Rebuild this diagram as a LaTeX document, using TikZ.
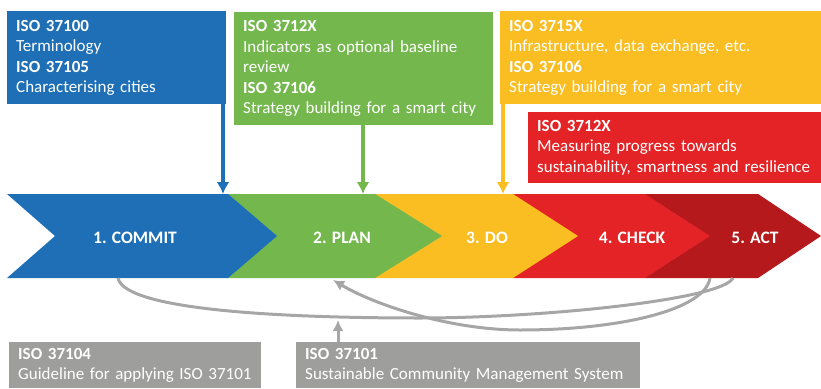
\documentclass[tikz,border=0pt]{standalone}
\usepackage{fontspec}
\setmainfont{Carlito}
\usetikzlibrary{arrows.meta}

\definecolor{isoblue}{RGB}{30,111,182}
\definecolor{isogreen}{RGB}{115,183,77}
\definecolor{isoyellow}{RGB}{250,190,35}
\definecolor{isored}{RGB}{227,35,37}
\definecolor{isodarkred}{RGB}{182,25,27}
\definecolor{isogray}{RGB}{158,158,157}
\definecolor{cyclegray}{RGB}{166,166,166}

\tikzstyle{isobox} = [ anchor=north west,inner xsep=9pt,inner ysep=0pt,
                       align=left,text=white,font=\fontsize{17}{20.5}\selectfont]
\tikzstyle{phase}  = [ text=white,font=\fontsize{17.5}{20}\selectfont\bfseries]
\tikzstyle{feed}   = [ line width=3.5pt,-{Latex[length=12pt,width=13pt]}]
\tikzstyle{cycleline} = [ cyclegray,line width=3pt,-{Latex[length=11pt,width=11pt]}]

\begin{document}
\begin{tikzpicture}[x=1pt,y=-1pt]
  \useasboundingbox (0,0) rectangle (821,388);

  % standard boxes
  \node[isobox,fill=isoblue,text width=201pt,minimum height=93pt] at (7,11) (iso100)
    {\textbf{ISO 37100}\\ Terminology\\ \textbf{ISO 37105}\\ Characterising cities};
  \node[isobox,fill=isogreen,text width=241pt,minimum height=113pt] at (234,12) (iso3712)
    {\textbf{ISO 3712X}\\ Indicators as optional baseline\\ review\\ \textbf{ISO 37106}\\ Strategy building for a smart city};
  \node[isobox,fill=isoyellow,text width=303pt,minimum height=93pt] at (500,11) (iso3715)
    {\textbf{ISO 3715X}\\ Infrastructure, data exchange, etc.\\ \textbf{ISO 37106}\\ Strategy building for a smart city};
  \node[isobox,fill=isored,text width=275pt,minimum height=71pt] at (528,112) (iso3712b)
    {\textbf{ISO 3712X}\\ Measuring progress towards\\ sustainability, smartness and resilience};
  \node[isobox,fill=isogray,text width=234pt,minimum height=46pt] at (9,342) (iso104)
    {\textbf{ISO 37104}\\ Guideline for applying ISO 37101};
  \node[isobox,fill=isogray,text width=326pt,minimum height=46pt] at (296,342) (iso101)
    {\textbf{ISO 37101}\\ Sustainable Community Management System};

  % chevron band, drawn right to left so each tip lies on top
  \fill[isodarkred] (645,194) -- (758,194) -- (821,236) -- (758,278) -- (645,278) -- cycle;
  \fill[isored]     (513,194) -- (645,194) -- (710,236) -- (645,278) -- (513,278) -- cycle;
  \fill[isoyellow]  (375,194) -- (513,194) -- (578,236) -- (513,278) -- (375,278) -- cycle;
  \fill[isogreen]   (228,194) -- (375,194) -- (442,236) -- (375,278) -- (228,278) -- cycle;
  \fill[isoblue]    (7,194) -- (228,194) -- (277,236) -- (228,278) -- (7,278) -- (55,236) -- cycle;

  \node[phase] at (135,237.5) (commit) {1. COMMIT};
  \node[phase] at (342,237.5) (plan)   {2. PLAN};
  \node[phase] at (487,237.5) (do)     {3. DO};
  \node[phase] at (632,237.5) (check)  {4. CHECK};
  \node[phase] at (755,237.5) (act)    {5. ACT};

  \coordinate (commit in)  at (223,194);
  \coordinate (plan in)    at (363,194);
  \coordinate (do in)      at (503,194);
  \coordinate (commit out) at (118,278);
  \coordinate (plan back)  at (333,280);
  \coordinate (check out)  at (710,278);
  \coordinate (act out)    at (733,278);
  \coordinate (cycle in)   at (338,320);

  \draw[feed,isoblue]   (iso100.south -| commit in) -- (commit in);
  \draw[feed,isogreen]  (iso3712.south -| plan in) -- (plan in);
  \draw[feed,isoyellow] (iso3715.south -| do in) -- (do in);

  % management cycle underneath
  \draw[cyclegray,line width=3pt] (commit out) .. controls (125,312) and (300,318) .. (420,318)
        .. controls (540,318) and (722,300) .. (act out);
  \draw[cycleline] (check out) .. controls (705,310) and (620,330) .. (520,330)
        .. controls (450,330) and (375,305) .. (plan back);
  \draw[cycleline] (iso101.north -| cycle in) -- (cycle in);
\end{tikzpicture}
\end{document}
